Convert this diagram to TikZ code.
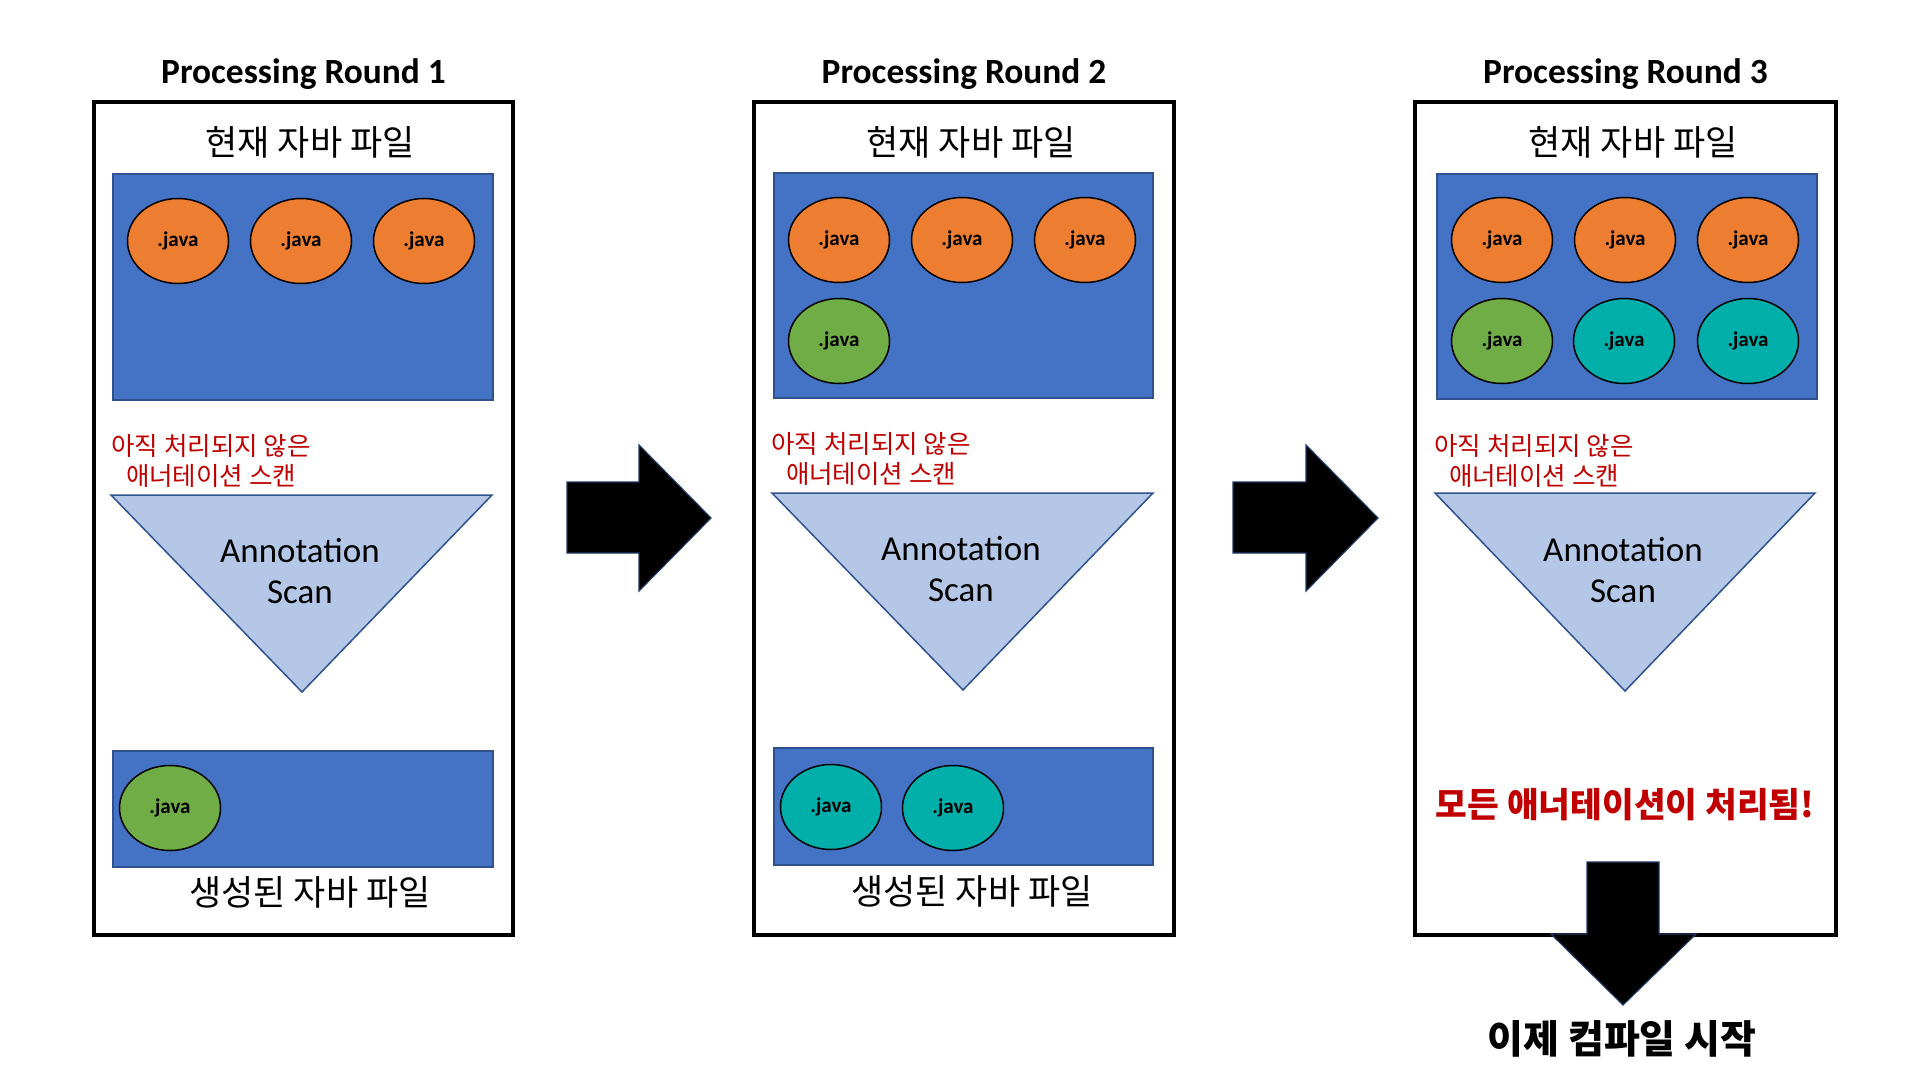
\documentclass[tikz,border=0pt]{standalone}
\usepackage{fontspec}
\setmainfont{Carlito}
\newfontfamily\kr{Noto Sans CJK KR}
\usetikzlibrary{shapes.geometric}
\usetikzlibrary{positioning}
\definecolor{fileblue}{HTML}{4472C4}
\definecolor{edgeblue}{HTML}{2F528F}
\definecolor{funnelblue}{HTML}{B4C7E7}
\definecolor{javaorange}{HTML}{ED7D31}
\definecolor{javagreen}{HTML}{70AD47}
\definecolor{javateal}{HTML}{00AFAA}
\definecolor{notered}{HTML}{C00000}
\definecolor{arrowedge}{HTML}{203864}
\begin{document}
\begin{tikzpicture}[line cap=round,line join=round,x=1pt,y=-1pt,
  panel/.style={draw=black,line width=4.5pt,line join=miter,line cap=rect},
  filebox/.style={draw=edgeblue,fill=fileblue,line width=1.5pt,line join=miter},
  jfile/.style={ellipse,draw=black,line width=1.5pt,minimum width=101pt,minimum height=85pt,inner sep=0pt,font=\fontsize{21}{24}\selectfont\bfseries},
  jold/.style={jfile,fill=javaorange},
  jnew/.style={jfile,fill=javagreen},
  jnext/.style={jfile,fill=javateal},
  roundtitle/.style={anchor=base,inner sep=0pt,font=\fontsize{35.4}{40}\selectfont\bfseries},
  krlabel/.style={inner sep=0pt,font=\kr\fontsize{35}{40}\selectfont},
  scannote/.style={align=center,inner sep=0pt,text=notered,font=\kr\fontsize{25.5}{30}\selectfont},
  funnel/.style={draw=edgeblue,fill=funnelblue,line width=1.5pt,line join=miter},
  scantext/.style={align=center,inner sep=0pt,font=\fontsize{35}{41}\selectfont},
  blockarrow/.style={draw=arrowedge,fill=black,line width=1.2pt,line join=miter}]
\useasboundingbox (0,0) rectangle (1924,1084);
\fill[white] (0,0) rectangle (1924,1084);

\draw [panel] (94,102) rectangle (513,935);
\node[roundtitle] (title1) at (303.5,83) {Processing Round 1};
\node[krlabel] (cur1) at (310,142) {현재 자바 파일};
\draw [filebox] (113,174) rectangle (493,400);
\node[jold] (j11) at (178,241) {.java};
\node[jold] (j12) at (301,241) {.java};
\node[jold] (j13) at (424,241) {.java};
\node[scannote] (note1) at (211,461) {아직 처리되지 않은\\애너테이션 스캔};
\draw [funnel] (111,495) -- (492,495) -- (302,692) -- cycle;
\node[scantext] (scan1) at (300,571) {Annotation\\Scan};
\draw [filebox] (113,751) rectangle (493,867);
\node[jnew] (g11) at (170,808) {.java};
\node[krlabel] (gen1) at (310,892) {생성된 자바 파일};

\draw [blockarrow] (567,482) -- (639,482) -- (639,445) -- (711,518) -- (639,591) -- (639,553) -- (567,553) -- cycle;

\draw [panel] (754,102) rectangle (1174,935);
\node[roundtitle] (title2) at (964,83) {Processing Round 2};
\node[krlabel] (cur2) at (971,142) {현재 자바 파일};
\draw [filebox] (774,173) rectangle (1153,398);
\node[jold] (j21) at (839,240) {.java};
\node[jold] (j22) at (962,240) {.java};
\node[jold] (j23) at (1085,240) {.java};
\node[jnew] (j24) at (839,341) {.java};
\node[scannote] (note2) at (871,459) {아직 처리되지 않은\\애너테이션 스캔};
\draw [funnel] (772,493) -- (1153,493) -- (963,690) -- cycle;
\node[scantext] (scan2) at (961,569) {Annotation\\Scan};
\draw [filebox] (774,748) rectangle (1153,865);
\node[jnext] (g21) at (831,807) {.java};
\node[jnext] (g22) at (953,808) {.java};
\node[krlabel] (gen2) at (972,891) {생성된 자바 파일};

\draw [blockarrow] (1233,482) -- (1306,482) -- (1306,445) -- (1378,518) -- (1306,591) -- (1306,553) -- (1233,553) -- cycle;

\draw [panel] (1415,102) rectangle (1836,935);
\node[roundtitle] (title3) at (1625.5,83) {Processing Round 3};
\node[krlabel] (cur3) at (1633,142) {현재 자바 파일};
\draw [filebox] (1437,174) rectangle (1817,399);
\node[jold] (j31) at (1502,240) {.java};
\node[jold] (j32) at (1625,240) {.java};
\node[jold] (j33) at (1748,240) {.java};
\node[jnew] (j34) at (1502,341) {.java};
\node[jnext] (j35) at (1624,341) {.java};
\node[jnext] (j36) at (1748,341) {.java};
\node[scannote] (note3) at (1534,461) {아직 처리되지 않은\\애너테이션 스캔};
\draw [funnel] (1435,493) -- (1815,493) -- (1625,691) -- cycle;
\node[scantext] (scan3) at (1623,570) {Annotation\\Scan};
\node[inner sep=0pt,text=notered,font=\kr\bfseries\fontsize{34.5}{38}\selectfont] (done3) at (1625,805) {모든 애너테이션이 처리됨!};

\draw [blockarrow] (1587,862) -- (1659,862) -- (1659,934) -- (1696,934) -- (1623,1005) -- (1551,934) -- (1587,934) -- cycle;
\node[inner sep=0pt,font=\kr\bfseries\fontsize{39}{42}\selectfont] (start) at (1622,1039) {이제 컴파일 시작};
\end{tikzpicture}
\end{document}
